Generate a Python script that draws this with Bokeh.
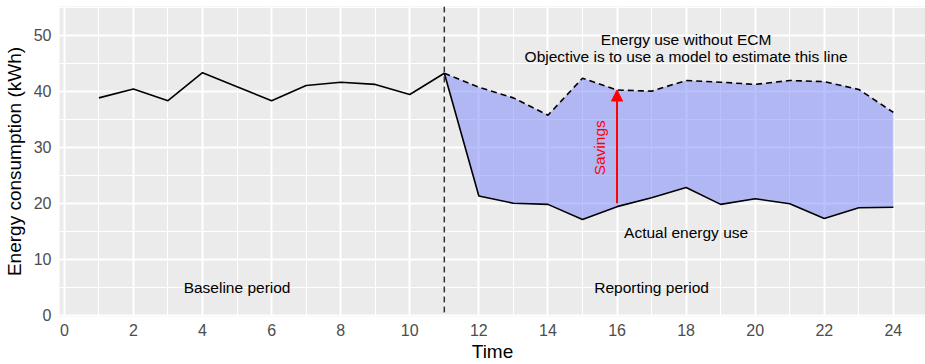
from bokeh.plotting import figure
from bokeh.models import Range1d, SingleIntervalTicker, Arrow, NormalHead, Span
from bokeh.core.properties import value
from bokeh.embed import file_html
from bokeh.resources import INLINE

# Baseline period (before the ECM)
t_base = [1, 2, 3, 4, 5, 6, 7, 8, 9, 10, 11]
use_base = [38.8, 40.4, 38.3, 43.3, 40.8, 38.3, 41.0, 41.6, 41.2, 39.4, 43.2]

# Reporting period: estimated use without ECM and actual use
t_rep = [11, 12, 13, 14, 15, 16, 17, 18, 19, 20, 21, 22, 23, 24]
use_without_ecm = [43.2, 40.7, 38.8, 35.7, 42.3, 40.2, 40.0, 41.9, 41.6, 41.2, 41.9, 41.7, 40.3, 36.2]
use_actual = [43.2, 21.3, 20.0, 19.8, 17.1, 19.4, 21.0, 22.8, 19.8, 20.8, 19.9, 17.3, 19.2, 19.3]

# Savings arrow
savings_t = 16
savings_from = 20.0
savings_to = 40.2

# ECM start
ecm_start = 11

# Annotations
note_x = [18.0, 18.0, 18.0, 5.0, 17.0]
note_y = [49.2, 46.1, 14.8, 5.0, 5.0]
note_text = [
    "Energy use without ECM",
    "Objective is to use a model to estimate this line",
    "Actual energy use",
    "Baseline period",
    "Reporting period",
]

FONT = "Liberation Sans"

p = figure(
    width=925, height=364,
    output_backend="svg", toolbar_location=None,
    x_range=Range1d(-0.14, 24.93), y_range=Range1d(-0.2, 55.1),
    min_border_left=59, min_border_right=0, min_border_top=6, min_border_bottom=46,
)
p.outline_line_color = None
p.background_fill_color = "#EBEBEB"
p.border_fill_color = "white"

p.xaxis.ticker = SingleIntervalTicker(interval=2, num_minor_ticks=2)
p.yaxis.ticker = SingleIntervalTicker(interval=10, num_minor_ticks=2)

for g in (p.xgrid, p.ygrid):
    g.grid_line_color = "white"
    g.grid_line_width = 2
    g.minor_grid_line_color = "white"
    g.minor_grid_line_width = 1

for ax in (p.xaxis, p.yaxis):
    ax.axis_line_color = None
    ax.major_tick_line_color = None
    ax.minor_tick_line_color = None
    ax.major_tick_out = 0
    ax.major_tick_in = 0
    ax.minor_tick_out = 0
    ax.minor_tick_in = 0
    ax.major_label_text_font = FONT
    ax.major_label_text_font_size = "16px"
    ax.major_label_text_color = "#4D4D4D"
    ax.axis_label_text_font = FONT
    ax.axis_label_text_font_size = "19px"
    ax.axis_label_text_font_style = "normal"
    ax.axis_label_text_color = "black"

p.xaxis.axis_label = "Time"
p.yaxis.axis_label = "Energy consumption (kWh)"
p.xaxis.major_label_standoff = 7
p.yaxis.major_label_standoff = 8
p.xaxis.axis_label_standoff = 2
p.yaxis.axis_label_standoff = 6

# Savings area
p.varea(x=t_rep, y1=use_actual, y2=use_without_ecm, fill_color="#7783FB", fill_alpha=0.5)

# Lines
p.line(t_base, use_base, line_color="black", line_width=1.6)
p.line(t_rep, use_actual, line_color="black", line_width=1.6)
p.line(t_rep, use_without_ecm, line_color="black", line_width=1.6, line_dash="6 4")

# ECM start marker
p.add_layout(Span(location=ecm_start, dimension="height", line_color="#333333",
                  line_width=1.5, line_dash="6 4"))

# Savings arrow and label
p.add_layout(Arrow(
    end=NormalHead(size=11, fill_color="red", line_color="red"),
    x_start=savings_t, y_start=savings_from, x_end=savings_t, y_end=savings_to,
    line_color="red", line_width=2,
))
p.text(x=[savings_t - 0.5], y=[(savings_from + savings_to) / 2 - 0.2], text=["Savings"],
       angle=1.5708, text_align="center", text_baseline="middle",
       text_color="red", text_font=value(FONT), text_font_size="15.5px")

p.text(x=note_x, y=note_y, text=note_text, text_align="center", text_baseline="middle",
       text_color="black", text_font=value(FONT), text_font_size="15.5px")

open("out.html", "w").write(file_html(p, INLINE))
